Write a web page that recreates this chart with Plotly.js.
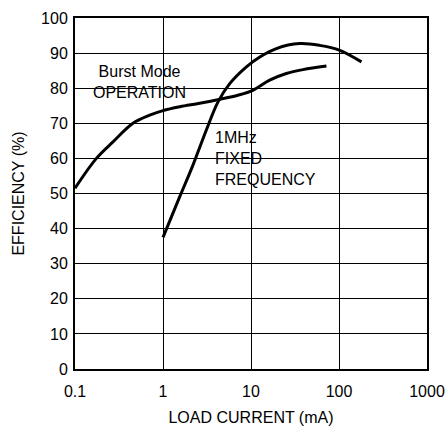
<!DOCTYPE html>
<html>
<head>
<meta charset="utf-8">
<script src="https://cdn.plot.ly/plotly-3.0.1.min.js"></script>
<style>html,body{margin:0;padding:0;background:#fff;}</style>
</head>
<body>
<div id="chart" style="width:445px;height:426px;"></div>
<script>
// Burst Mode operation curve
const burstCurrent = [0.1, 0.175, 0.27, 0.456, 0.706, 1.0, 1.55, 2.61, 4.33, 7.1, 10.5, 16.3, 25.2, 39, 72];
const burstEff     = [51.5, 60.0, 64.7, 70.0, 72.3, 73.6, 74.7, 75.7, 76.8, 78.0, 79.4, 82.3, 84.2, 85.3, 86.3];
// 1MHz fixed frequency curve
const fixedCurrent = [1.0, 1.55, 2.19, 3.11, 4.22, 5.73, 8.87, 12.6, 19.4, 35.7, 60.2, 102, 180];
const fixedEff     = [37.5, 49.1, 58.1, 68.1, 76.1, 81.3, 86.1, 88.9, 91.3, 92.7, 92.2, 90.8, 87.5];

const xTickVals = [0.1, 1, 10, 100, 1000];
const xTickText = ['0.1', '1', '10', '100', '1000'];
const yTickVals = [0, 10, 20, 30, 40, 50, 60, 70, 80, 90, 100];

const FONT = '"Liberation Sans", Arial, sans-serif';

const lineStyle = {color: '#000', width: 3, shape: 'spline', smoothing: 1};

const data = [
  {x: burstCurrent, y: burstEff, type: 'scatter', mode: 'lines', line: lineStyle, name: 'Burst Mode'},
  {x: fixedCurrent, y: fixedEff, type: 'scatter', mode: 'lines', line: lineStyle, name: '1MHz'}
];

const layout = {
  width: 445, height: 426,
  margin: {l: 75, r: 18, t: 18, b: 57},
  paper_bgcolor: '#fff', plot_bgcolor: '#fff',
  showlegend: false,
  font: {family: FONT, size: 16, color: '#000'},
  xaxis: {
    type: 'log', range: [-1, 3],
    tickvals: xTickVals, ticktext: xTickText,
    showgrid: true, gridcolor: '#000', gridwidth: 1,
    showline: true, linecolor: '#000', linewidth: 2, mirror: true,
    ticks: '', zeroline: false, ticklabeloverflow: 'allow', ticklabelstandoff: 7,
    title: {text: 'LOAD CURRENT (mA)', font: {size: 16}, standoff: 14}
  },
  yaxis: {
    range: [0, 100], tickvals: yTickVals,
    showgrid: true, gridcolor: '#000', gridwidth: 1,
    showline: true, linecolor: '#000', linewidth: 2, mirror: true,
    ticks: '', zeroline: false, ticklabelstandoff: 2,
    title: {text: 'EFFICIENCY (%)', font: {size: 16}, standoff: 12}
  },
  shapes: [
    {type: 'rect', xref: 'paper', yref: 'paper', x0: 0.034, x1: 0.327, y0: 0.761, y1: 0.885,
     fillcolor: '#fff', line: {width: 0}, layer: 'between'},
    {type: 'rect', xref: 'paper', yref: 'paper', x0: 0.378, x1: 0.662, y0: 0.51, y1: 0.695,
     fillcolor: '#fff', line: {width: 0}, layer: 'between'}
  ],
  annotations: [
    {x: 0.182, y: 0.818, xref: 'paper', yref: 'paper', xanchor: 'center', yanchor: 'middle',
     text: 'Burst Mode<br>OPERATION', showarrow: false, align: 'center', font: {size: 16}},
    {x: 0.392, y: 0.600, xref: 'paper', yref: 'paper', xanchor: 'left', yanchor: 'middle',
     text: '1MHz<br>FIXED<br>FREQUENCY', showarrow: false, align: 'left', font: {size: 16}}
  ]
};

Plotly.newPlot('chart', data, layout, {displayModeBar: false, staticPlot: true});
</script>
</body>
</html>
